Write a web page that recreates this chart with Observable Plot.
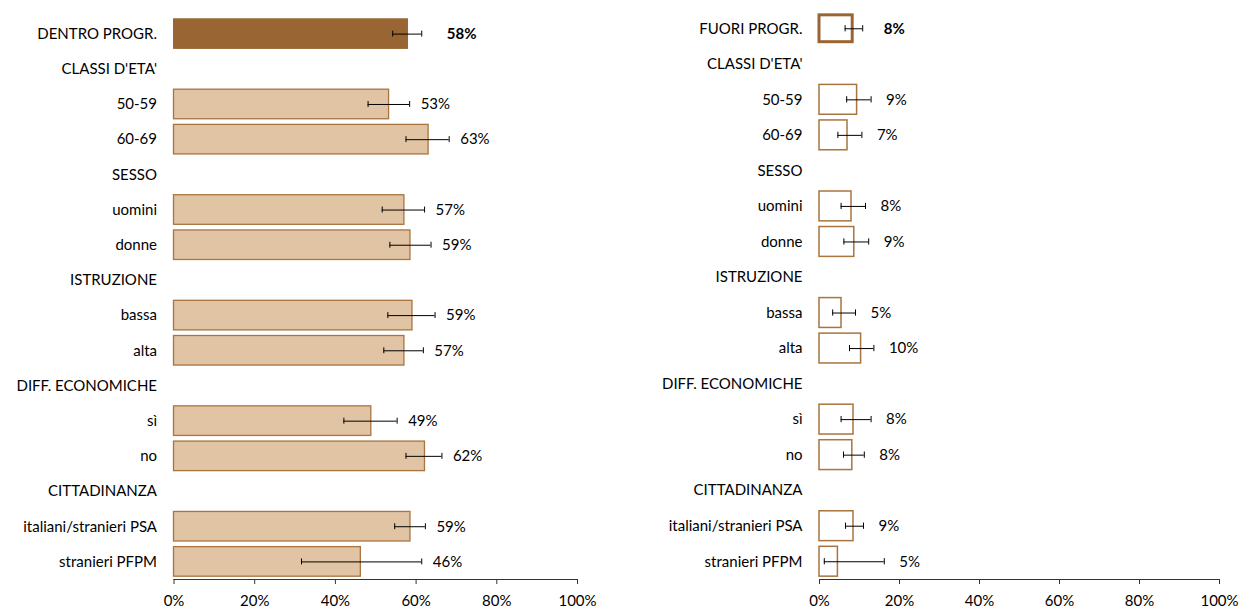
<!DOCTYPE html>
<html>
<head>
<meta charset="utf-8">
<script src="https://cdn.jsdelivr.net/npm/d3@7"></script>
<script src="https://cdn.jsdelivr.net/npm/@observablehq/plot@0.6"></script>
<style>
  html, body { margin: 0; padding: 0; background: #fff; }
  #wrap { display: flex; width: 1239px; height: 608px; }
  #wrap > div { flex: none; }
</style>
</head>
<body>
<div id="wrap"><div id="left"></div><div id="right"></div></div>
<script>
// ---- data ----
const rowsLeft = ["DENTRO PROGR.", "CLASSI D'ETA'", "50-59", "60-69", "SESSO", "uomini", "donne",
  "ISTRUZIONE", "bassa", "alta", "DIFF. ECONOMICHE", "sì", "no", "CITTADINANZA",
  "italiani/stranieri PSA", "stranieri PFPM"];
const rowsRight = ["FUORI PROGR.", "CLASSI D'ETA'", "50-59", "60-69", "SESSO", "uomini", "donne",
  "ISTRUZIONE", "bassa", "alta", "DIFF. ECONOMICHE", "sì", "no", "CITTADINANZA",
  "italiani/stranieri PSA", "stranieri PFPM"];

const dentroValue = [58.0, null, 53.3, 63.1, null, 57.1, 58.6, null, 59.1, 57.1, null, 48.9, 62.2, null, 58.6, 46.3];
const dentroLow   = [54.2, null, 48.1, 57.5, null, 51.6, 53.5, null, 53.0, 52.0, null, 42.1, 57.5, null, 54.7, 31.6];
const dentroHigh  = [61.4, null, 58.4, 68.2, null, 62.1, 63.7, null, 64.7, 61.8, null, 55.3, 66.4, null, 62.3, 61.4];
const dentroLabel = ["58%", null, "53%", "63%", null, "57%", "59%", null, "59%", "57%", null, "49%", "62%", null, "59%", "46%"];

const fuoriValue = [8.3, null, 9.4, 7.0, null, 8.0, 8.7, null, 5.5, 10.4, null, 8.5, 8.2, null, 8.5, 4.6];
const fuoriLow   = [6.4, null, 6.8, 4.6, null, 5.4, 6.1, null, 3.3, 7.5, null, 5.4, 6.0, null, 6.5, 1.2];
const fuoriHigh  = [10.8, null, 12.9, 10.6, null, 11.5, 12.3, null, 9.0, 13.6, null, 12.9, 11.2, null, 11.0, 16.2];
const fuoriLabel = ["8%", null, "9%", "7%", null, "8%", "9%", null, "5%", "10%", null, "8%", "8%", null, "9%", "5%"];

const xTicks = [0, 20, 40, 60, 80, 100];

// ---- styles ----
const FONT = "Lato, 'Noto Sans', sans-serif";
const FS = 15;
const dark = "#996633";
const lightFill = "#E1C4A4";
const lightStroke = "#A8743F";

function table(rows, v, lo, hi, lab) {
  return rows.map((r, i) => ({i, label: r, v: v[i], lo: lo[i], hi: hi[i], t: lab[i]}));
}

function panel({rows, data, width, marginLeft, marginRight, marginTop, filled, labelDx, firstDx}) {
  const bars = data.filter(d => d.v != null);
  const first = bars.filter(d => d.i === 0);
  const rest = bars.filter(d => d.i !== 0);
  const capInset = 11.8;
  return Plot.plot({
    width, height: 608,
    marginLeft, marginRight, marginTop, marginBottom: 29,
    style: {fontFamily: FONT, fontSize: FS + "px", color: "#000", background: "transparent", overflow: "visible"},
    x: {domain: [0, 100], label: null},
    y: {domain: rows, paddingInner: 0.16, paddingOuter: 0.08, round: false, label: null},
    marks: [
      filled
        ? Plot.barX(rest, {x: "v", y: "label", fill: lightFill, stroke: lightStroke, strokeWidth: 1.3})
        : Plot.barX(rest, {x: "v", y: "label", fill: "white", stroke: lightStroke, strokeWidth: 1.5}),
      filled
        ? Plot.barX(first, {x: "v", y: "label", fill: dark, stroke: dark, strokeWidth: 1})
        : Plot.barX(first, {x: "v", y: "label", fill: "white", stroke: dark, strokeWidth: 3, insetTop: 1.5, insetBottom: 1.5}),
      Plot.ruleY(bars, {y: "label", x1: "lo", x2: "hi", stroke: "#000", strokeWidth: 1}),
      Plot.tickX(bars, {x: "lo", y: "label", stroke: "#000", strokeWidth: 1, insetTop: capInset, insetBottom: capInset}),
      Plot.tickX(bars, {x: "hi", y: "label", stroke: "#000", strokeWidth: 1, insetTop: capInset, insetBottom: capInset}),
      Plot.text(rest, {x: "hi", y: "label", text: "t", dx: labelDx, textAnchor: "start", fill: "#000", fontSize: FS}),
      Plot.text(first, {x: "hi", y: "label", text: "t", dx: firstDx, textAnchor: "start", fill: "#000", fontSize: FS, fontWeight: "bold"}),
      Plot.axisY({tickSize: 0, tickPadding: 17, fontSize: FS, fill: "#000"}),
      Plot.frame({anchor: "bottom", stroke: "#333"}),
      Plot.axisX({ticks: xTicks, tickFormat: d => d + "%", tickSize: 5, tickPadding: 11, fontSize: FS, stroke: "#333", fill: "#000"})
    ]
  });
}

document.getElementById("left").append(panel({
  rows: rowsLeft,
  data: table(rowsLeft, dentroValue, dentroLow, dentroHigh, dentroLabel),
  width: 620, marginLeft: 173.5, marginRight: 43, marginTop: 16, filled: true, labelDx: 11, firstDx: 25
}));
document.getElementById("right").append(panel({
  rows: rowsRight,
  data: table(rowsRight, fuoriValue, fuoriLow, fuoriHigh, fuoriLabel),
  width: 619, marginLeft: 199, marginRight: 20, marginTop: 10.5, filled: false, labelDx: 15, firstDx: 21
}));
</script>
</body>
</html>
